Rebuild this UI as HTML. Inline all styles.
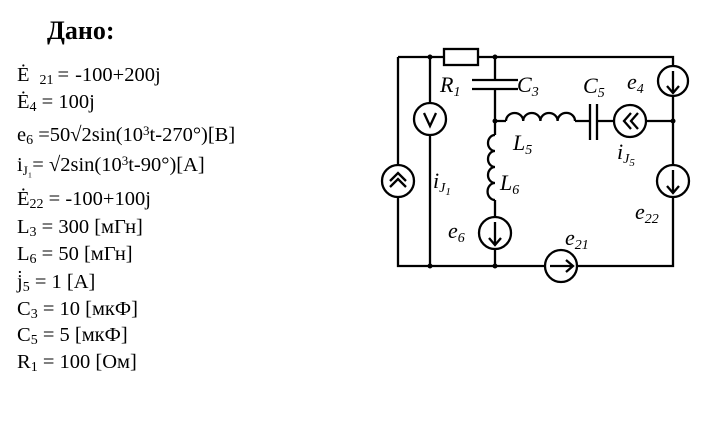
<!DOCTYPE html>
<html><head><meta charset="utf-8"><style>
html,body{margin:0;padding:0;background:#fff;width:704px;height:427px;overflow:hidden}
svg{display:block}
.t{font-family:"Liberation Serif",serif;font-size:20.5px;fill:#000}
.l{font-family:"Liberation Serif",serif;font-style:italic;font-size:22px;fill:#000}
</style></head><body>
<svg width="704" height="427" viewBox="0 0 704 427" xmlns="http://www.w3.org/2000/svg">
<text x="47" y="39" style="font-family:'Liberation Serif',serif;font-weight:bold;font-size:26px">Дано:</text>
<g class="t">
<text x="17" y="81">Ė<tspan font-size="14" dy="3" dx="10">21</tspan><tspan dy="-3" dx="4">=</tspan><tspan dx="6">-100+200j</tspan></text>
<text x="17" y="108">Ė<tspan font-size="14" dy="3">4</tspan><tspan dy="-3"> = 100j</tspan></text>
<text x="17" y="141">e<tspan font-size="14" dy="3">6</tspan><tspan dy="-3"> =50√2sin(10</tspan><tspan font-size="13" dy="-6">3</tspan><tspan dy="6">t-270°)[В]</tspan></text>
<text x="17" y="171">i<tspan font-size="13" dy="4">J₁</tspan><tspan dy="-4">= √2sin(10</tspan><tspan font-size="13" dy="-6">3</tspan><tspan dy="6">t-90°)[A]</tspan></text>
<text x="17" y="205">Ė<tspan font-size="14" dy="3">22</tspan><tspan dy="-3"> = -100+100j</tspan></text>
<text x="17" y="233">L<tspan font-size="14" dy="3">3</tspan><tspan dy="-3"> = 300 [мГн]</tspan></text>
<text x="17" y="260">L<tspan font-size="14" dy="3">6</tspan><tspan dy="-3"> = 50 [мГн]</tspan></text>
<text x="17" y="288">j̇<tspan font-size="14" dy="3">5</tspan><tspan dy="-3"> = 1 [A]</tspan></text>
<text x="17" y="315">C<tspan font-size="14" dy="3">3</tspan><tspan dy="-3"> = 10 [мкФ]</tspan></text>
<text x="17" y="341">C<tspan font-size="14" dy="3">5</tspan><tspan dy="-3"> = 5 [мкФ]</tspan></text>
<text x="17" y="368">R<tspan font-size="14" dy="3">1</tspan><tspan dy="-3"> = 100 [Ом]</tspan></text>
</g>
<g stroke="#000" stroke-width="2.3" fill="none">
<path d="M398 57 H444 M478 57 H673 V66 M673 96 V165 M673 197 V266 H577 M545 266 H398 V197 M398 165 V57"/>
<rect x="444" y="49" width="34" height="16" fill="#fff"/>
<path d="M430 57 V103 M430 135 V266"/>
<circle cx="430" cy="119" r="16"/>
<circle cx="398" cy="181" r="16"/>
<path d="M495 57 V80 M495 89 V121 M472 80 H518 M472 89 H518"/>
<path d="M495 121 V135 M495 200 V217 M495 249 V266"/>
<path d="M495 135 a7 8 0 0 0 0 16 a7 8 0 0 0 0 16 a7 8 0 0 0 0 16 a7 8 0 0 0 0 17"/>
<circle cx="495" cy="233" r="16"/>
<path d="M495 121 H506 M575 121 H590 M597 121 H614 M646 121 H673"/>
<path d="M506 121 a8.6 8 0 0 1 17.2 0 a8.6 8 0 0 1 17.2 0 a8.6 8 0 0 1 17.2 0 a8.6 8 0 0 1 17.4 0"/>
<path d="M590 104 V140 M597 104 V140"/>
<circle cx="630" cy="121" r="16"/>
<circle cx="673" cy="81" r="15"/>
<circle cx="673" cy="181" r="16"/>
<circle cx="561" cy="266" r="16"/>
<path d="M673 71 V92 M667 86 L673 93 L679 86"/>
<path d="M673 170 V192 M667 186 L673 193 L679 186"/>
<path d="M495 222 V244 M489 238 L495 245 L501 238"/>
<path d="M550 266 H572 M566 260 L573 266 L566 272"/>
<path d="M631 113 L624 121 L631 129 M638 113 L631 121 L638 129"/>
<path d="M390 187 L398 179 L406 187 M390 181 L398 173 L406 181"/>
<path d="M424 113 L430 126 L436 113"/>
</g>
<g fill="#000">
<circle cx="430" cy="57" r="2.5"/><circle cx="495" cy="57" r="2.5"/>
<circle cx="495" cy="121" r="2.5"/><circle cx="673" cy="121" r="2.5"/>
<circle cx="430" cy="266" r="2.5"/><circle cx="495" cy="266" r="2.5"/>
</g>
<g class="l">
<text x="440" y="92">R<tspan font-size="14" dy="4">1</tspan></text>
<text x="517" y="92">C<tspan font-size="14" dy="4">3</tspan></text>
<text x="583" y="93">C<tspan font-size="14" dy="4">5</tspan></text>
<text x="627" y="89">e<tspan font-size="14" dy="4">4</tspan></text>
<text x="513" y="150">L<tspan font-size="14" dy="4">5</tspan></text>
<text x="617" y="159">i<tspan font-size="14" dy="4">J</tspan><tspan font-size="11" dy="3">5</tspan></text>
<text x="433" y="188">i<tspan font-size="14" dy="4">J</tspan><tspan font-size="11" dy="3">1</tspan></text>
<text x="500" y="190">L<tspan font-size="14" dy="4">6</tspan></text>
<text x="448" y="238">e<tspan font-size="14" dy="4">6</tspan></text>
<text x="565" y="245">e<tspan font-size="14" dy="4">21</tspan></text>
<text x="635" y="219">e<tspan font-size="14" dy="4">22</tspan></text>
</g>
</svg>
</body></html>
